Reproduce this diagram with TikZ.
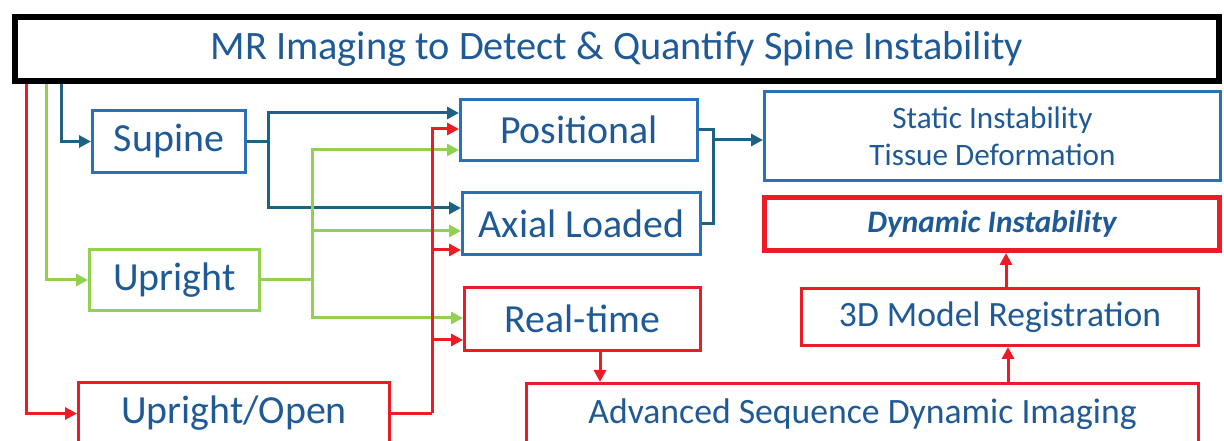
\documentclass[tikz,border=0pt]{standalone}
\usepackage{fontspec}
\setmainfont{Carlito}
\usetikzlibrary{arrows.meta}
\newlength{\du}
\setlength{\du}{1bp}
\definecolor{txtcolor}{rgb}{0.122,0.353,0.588}
\definecolor{boxblue}{rgb}{0.165,0.439,0.722}
\definecolor{linkblue}{rgb}{0.114,0.384,0.514}
\definecolor{linkgreen}{rgb}{0.573,0.816,0.314}
\definecolor{linkred}{rgb}{0.929,0.110,0.141}
\tikzset{
  basebox/.style={draw, line width=3\du, text=txtcolor, inner sep=0pt, font=\fontsize{40}{46}\selectfont},
  bluebox/.style={basebox, draw=boxblue},
  greenbox/.style={basebox, draw=linkgreen},
  redbox/.style={basebox, draw=linkred},
  linktip/.style={-{Triangle[length=12bp,width=12bp]}},
  dbline/.style={draw=linkblue, line width=3\du},
  gnline/.style={draw=linkgreen, line width=3\du},
  rdline/.style={draw=linkred, line width=3\du},
}

\begin{document}
\begin{tikzpicture}[x=1\du,y=-1\du]
\useasboundingbox (0,0) rectangle (1224,441);
% title
\node[draw=black, line width=6\du, text=txtcolor, inner sep=0pt, minimum width=1204\du, minimum height=64\du, font=\fontsize{40.5}{46}\selectfont] (title) at (617,49) {MR Imaging to Detect \& Quantify Spine Instability};
% scanners
\node[bluebox, minimum width=153\du, minimum height=62\du] (sup) at (169,141.5) {Supine};
\node[greenbox, minimum width=170\du, minimum height=61\du] (upr) at (174.5,280) {Upright};
\node[redbox, minimum width=311\du, minimum height=61\du] (uop) at (234,413.5) {Upright/Open};
% modes
\node[bluebox, minimum width=237\du, minimum height=61\du] (pos) at (579,130) {Positional};
\node[bluebox, minimum width=238\du, minimum height=62\du] (axl) at (581.5,223.5) {Axial Loaded};
\node[redbox, minimum width=236\du, minimum height=63\du] (rt) at (582.5,319) {Real-time};
% results
\node[bluebox, minimum width=456\du, minimum height=89\du, align=center, font=\fontsize{31.3}{37}\selectfont] (sta) at (992.5,136) {Static Instability\\Tissue Deformation};
\node[redbox, line width=5\du, minimum width=455\du, minimum height=53\du, font=\fontsize{31.4}{36}\selectfont\bfseries\itshape] (dyn) at (992,224) {Dynamic Instability};
\node[redbox, minimum width=397\du, minimum height=57\du, font=\fontsize{35.7}{42}\selectfont] (reg) at (1000,317) {3D Model Registration};
\node[redbox, minimum width=672\du, minimum height=61\du, font=\fontsize{35.8}{42}\selectfont] (adv) at (862.5,414) {Advanced Sequence Dynamic Imaging};

% branch points
\path (title.south west) ++(49,0) coordinate (tb);
\path (title.south west) ++(34,0) coordinate (tg);
\path (title.south west) ++(14,0) coordinate (tr);
\path (sup.east) ++(21,0) coordinate (sj);
\path (upr.east) ++(51,0) coordinate (gj);
\path (uop.east) ++(41,0) coordinate (rj);
\path (pos.east) ++(14,0) coordinate (oj);
\path (pos.west) ++(0,-17) coordinate (pos1);
\path (pos.west) ++(0,-1) coordinate (pos2);
\path (pos.west) ++(0,20) coordinate (pos3);
\path (axl.west) ++(0,-15.5) coordinate (axl1);
\path (axl.west) ++(0,7.5) coordinate (axl2);
\path (axl.west) ++(0,26.5) coordinate (axl3);
\path (rt.west) ++(0,-1) coordinate (rt1);
\path (rt.west) ++(0,21) coordinate (rt2);
\path (sta.west) ++(0,4) coordinate (sta1);
\path (rt.south) ++(17.5,0) coordinate (rtb);
\path (reg.south) ++(8,0) coordinate (regb);
\path (reg.north) ++(6,0) coordinate (regt);

% title to scanners
\draw[dbline, linktip] (tb) |- (sup.west);
\draw[gnline, linktip] (tg) |- (upr.west);
\draw[rdline, linktip] (tr) |- (uop.west);
% supine
\draw[dbline] (sup.east) -- (sj);
\draw[dbline, linktip] (sj) |- (pos1);
\draw[dbline, linktip] (sj) |- (axl1);
% upright
\draw[gnline] (upr.east) -- (gj);
\draw[gnline, linktip] (gj) |- (pos3);
\draw[gnline, linktip] (gj) |- (axl2);
\draw[gnline, linktip] (gj) |- (rt1);
% upright/open
\draw[rdline] (uop.east) -- (rj);
\draw[rdline, linktip] (rj) |- (pos2);
\draw[rdline, linktip] (rj) |- (axl3);
\draw[rdline, linktip] (rj) |- (rt2);
% static branch
\draw[dbline] (pos.east) -- (oj) |- (axl.east);
\draw[dbline, linktip] (oj |- sta1) -- (sta1);
% dynamic branch
\draw[rdline, linktip] (rtb) -- (rtb |- adv.north);
\draw[rdline, linktip] (regb |- adv.north) -- (regb);
\draw[rdline, linktip] (regt) -- (regt |- dyn.south);
\end{tikzpicture}
\end{document}
